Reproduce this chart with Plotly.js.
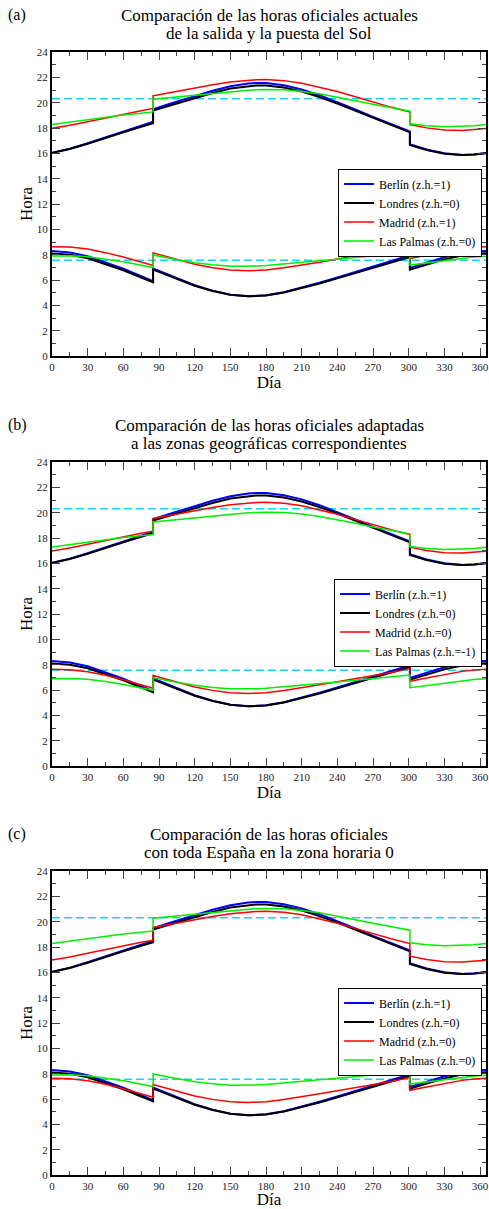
<!DOCTYPE html>
<html>
<head>
<meta charset="utf-8">
<script src="https://cdn.plot.ly/plotly-3.0.1.min.js"></script>
<style>
html,body{margin:0;padding:0;background:#fff;overflow:hidden;width:489px;height:1209px;}
.p{position:absolute;left:0;width:489px;}
</style>
</head>
<body>
<div id="pa" class="p" style="top:0;height:410px"></div>
<div id="pb" class="p" style="top:410px;height:410px"></div>
<div id="pc" class="p" style="top:819px;height:390px"></div>
<script>
// Day of year (DST changes at day 85 and day 301: repeated day = before / after)
const days = [0,15,30,45,60,75,85,85,100,120,135,150,165,172,180,195,210,225,240,255,270,285,301,301,315,330,345,355,365];

// Berlin (z.h.=1), official time
const berlinRise = [8.29,8.17,7.87,7.41,6.89,6.31,5.91,6.91,6.32,5.59,5.16,4.84,4.71,4.72,4.79,5.03,5.38,5.78,6.20,6.62,7.04,7.47,7.95,6.95,7.38,7.80,8.12,8.26,8.29];
const berlinSet  = [16.04,16.37,16.80,17.28,17.74,18.19,18.49,19.49,19.93,20.52,20.94,21.29,21.51,21.55,21.55,21.38,21.05,20.59,20.05,19.47,18.87,18.29,17.72,16.72,16.31,16.00,15.87,15.90,16.02];

// Londres (z.h.=0)
const londonRise = [8.10,8.00,7.71,7.27,6.77,6.20,5.82,6.82,6.25,5.55,5.13,4.83,4.71,4.72,4.78,5.02,5.35,5.73,6.13,6.54,6.94,7.35,7.81,6.81,7.22,7.63,7.94,8.07,8.11];
const londonSet  = [16.03,16.34,16.76,17.23,17.66,18.10,18.38,19.38,19.81,20.37,20.76,21.11,21.32,21.36,21.36,21.20,20.88,20.44,19.92,19.35,18.78,18.21,17.66,16.66,16.27,15.97,15.86,15.90,16.01];

// Madrid (z.h.=1)
const madridRiseZ1 = [8.63,8.60,8.44,8.16,7.81,7.41,7.14,8.14,7.73,7.24,6.97,6.79,6.73,6.75,6.79,6.96,7.17,7.41,7.65,7.89,8.14,8.39,8.69,7.69,7.95,8.23,8.47,8.58,8.63];
const madridSetZ1  = [17.98,18.21,18.50,18.81,19.09,19.37,19.54,20.54,20.80,21.16,21.41,21.63,21.77,21.81,21.82,21.74,21.54,21.24,20.88,20.47,20.05,19.65,19.27,18.27,18.01,17.84,17.81,17.86,17.96];

// Madrid (z.h.=0)
const madridRiseZ0 = [7.63,7.60,7.44,7.16,6.81,6.41,6.14,7.14,6.73,6.24,5.97,5.79,5.73,5.75,5.79,5.96,6.17,6.41,6.65,6.89,7.14,7.39,7.69,6.69,6.95,7.23,7.47,7.58,7.63];
const madridSetZ0  = [16.98,17.21,17.50,17.81,18.09,18.37,18.54,19.54,19.80,20.16,20.41,20.63,20.77,20.81,20.82,20.74,20.54,20.24,19.88,19.47,19.05,18.65,18.27,17.27,17.01,16.84,16.81,16.86,16.96];

// Las Palmas (z.h.=0)
const palmasRiseZ0 = [7.89,7.91,7.84,7.67,7.44,7.17,6.98,7.98,7.69,7.37,7.20,7.09,7.08,7.10,7.14,7.25,7.38,7.52,7.64,7.77,7.89,8.02,8.18,7.18,7.35,7.54,7.72,7.82,7.88];
const palmasSetZ0  = [18.28,18.47,18.67,18.86,19.03,19.17,19.27,20.27,20.40,20.60,20.74,20.89,20.99,21.02,21.04,21.01,20.89,20.70,20.45,20.16,19.87,19.59,19.33,18.33,18.18,18.10,18.12,18.18,18.27];

// Las Palmas (z.h.=-1)
const palmasRiseZm1 = [6.89,6.91,6.84,6.67,6.44,6.17,5.98,6.98,6.69,6.37,6.20,6.09,6.08,6.10,6.14,6.25,6.38,6.52,6.64,6.77,6.89,7.02,7.18,6.18,6.35,6.54,6.72,6.82,6.88];
const palmasSetZm1  = [17.28,17.47,17.67,17.86,18.03,18.17,18.27,19.27,19.40,19.60,19.74,19.89,19.99,20.02,20.04,20.01,19.89,19.70,19.45,19.16,18.87,18.59,18.33,17.33,17.18,17.10,17.12,17.18,17.27];

// Reference (dashed cyan) levels
const refDays = [0, 365];
const refSetLevel = 20.3;
const refRiseLevel = 7.55;

// Tick labels
const xTicks = [0,30,60,90,120,150,180,210,240,270,300,330,360];
const yTicks = [0,2,4,6,8,10,12,14,16,18,20,22,24];

const FONT = '"Liberation Serif", "Times New Roman", "DejaVu Serif", serif';

function cityTrace(name, rise, set, color, width){
  return {
    type:'scatter', mode:'lines', name:name,
    x: days.concat([null], days),
    y: rise.concat([null], set),
    line:{color:color, width:width},
    connectgaps:false, hoverinfo:'skip'
  };
}
function refTrace(){
  return {
    type:'scatter', mode:'lines', showlegend:false,
    x: refDays.concat([null], refDays),
    y: [refSetLevel, refSetLevel, null, refRiseLevel, refRiseLevel],
    line:{color:'#18d2f2', width:1.5, dash:'8px,4px'},
    hoverinfo:'skip'
  };
}

function makeLayout(height, bottom, tag, title1, title2){
  const plotH = height - 52 - bottom;
  const py = px => 1 + (52 - px) / plotH;
  return {
    width:489, height:height,
    margin:{l:52, r:3, t:52, b:bottom, pad:0},
    paper_bgcolor:'#fff', plot_bgcolor:'#fff',
    font:{family:FONT, color:'#000', size:12},
    showlegend:true,
    legend:{x:0.991, xanchor:'right', y:1 - (168.5-52)/plotH, yanchor:'top',
            bgcolor:'#fff', bordercolor:'#000', borderwidth:1,
            font:{family:FONT, size:12, color:'#000'}, tracegroupgap:0, itemwidth:30},
    annotations:[
      {text:tag, xref:'paper', yref:'paper', x:(17-52)/434, y:py(15),
       xanchor:'center', yanchor:'middle', showarrow:false,
       font:{family:FONT, size:16, color:'#000'}},
      {text:title1, xref:'paper', yref:'paper', x:0.5, y:py(15),
       xanchor:'center', yanchor:'middle', showarrow:false,
       font:{family:FONT, size:17, color:'#000'}},
      {text:title2, xref:'paper', yref:'paper', x:0.5, y:py(33),
       xanchor:'center', yanchor:'middle', showarrow:false,
       font:{family:FONT, size:17, color:'#000'}}
    ],
    xaxis:{range:[0,365], tickmode:'array', tickvals:xTicks, ticktext:xTicks.map(String),
           ticks:'inside', ticklen:8, tickwidth:1, tickcolor:'#444',
           minor:{dtick:15, tick0:0, ticks:'inside', ticklen:4, tickwidth:1, tickcolor:'#444', showgrid:false},
           showline:true, linewidth:2, linecolor:'#000', mirror:'allticks',
           showgrid:false, zeroline:false, fixedrange:true,
           tickfont:{family:FONT, size:11, color:'#222'},
           title:{text:'Día', font:{family:FONT, size:17, color:'#000'}, standoff:2}},
    yaxis:{range:[0,24], tickmode:'array', tickvals:yTicks, ticktext:yTicks.map(String),
           ticks:'inside', ticklen:8, tickwidth:1, tickcolor:'#444',
           minor:{dtick:1, tick0:0, ticks:'inside', ticklen:4, tickwidth:1, tickcolor:'#444', showgrid:false},
           showline:true, linewidth:2, linecolor:'#000', mirror:'allticks',
           showgrid:false, zeroline:false, fixedrange:true,
           tickfont:{family:FONT, size:11, color:'#222'},
           title:{text:'Hora', font:{family:FONT, size:17, color:'#000'}, standoff:0}}
  };
}

const cfg = {staticPlot:true, displayModeBar:false};

Plotly.newPlot('pa', [
  refTrace(),
  cityTrace('Berlín (z.h.=1)', berlinRise, berlinSet, '#0000ff', 2),
  cityTrace('Londres (z.h.=0)', londonRise, londonSet, '#000000', 2),
  cityTrace('Madrid (z.h.=1)', madridRiseZ1, madridSetZ1, '#ff0000', 1.5),
  cityTrace('Las Palmas (z.h.=0)', palmasRiseZ0, palmasSetZ0, '#00ee00', 1.5)
], makeLayout(410, 54, '(a)', 'Comparación de las horas oficiales actuales', 'de la salida y la puesta del Sol'), cfg);

Plotly.newPlot('pb', [
  refTrace(),
  cityTrace('Berlín (z.h.=1)', berlinRise, berlinSet, '#0000ff', 2),
  cityTrace('Londres (z.h.=0)', londonRise, londonSet, '#000000', 2),
  cityTrace('Madrid (z.h.=0)', madridRiseZ0, madridSetZ0, '#ff0000', 1.5),
  cityTrace('Las Palmas (z.h.=-1)', palmasRiseZm1, palmasSetZm1, '#00ee00', 1.5)
], makeLayout(410, 54, '(b)', 'Comparación de las horas oficiales adaptadas', 'a las zonas geográficas correspondientes'), cfg);

Plotly.newPlot('pc', [
  refTrace(),
  cityTrace('Berlín (z.h.=1)', berlinRise, berlinSet, '#0000ff', 2),
  cityTrace('Londres (z.h.=0)', londonRise, londonSet, '#000000', 2),
  cityTrace('Madrid (z.h.=0)', madridRiseZ0, madridSetZ0, '#ff0000', 1.5),
  cityTrace('Las Palmas (z.h.=0)', palmasRiseZ0, palmasSetZ0, '#00ee00', 1.5)
], makeLayout(390, 34, '(c)', 'Comparación de las horas oficiales', 'con toda España en la zona horaria 0'), cfg);
</script>
</body>
</html>
